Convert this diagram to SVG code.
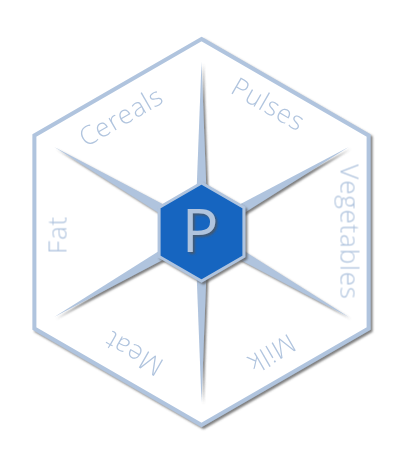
<svg xmlns="http://www.w3.org/2000/svg" width="402" height="464" viewBox="0 0 402 464">
  <style>
    .outer { fill: #ffffff; stroke: #b0c4de; stroke-width: 4; stroke-linejoin: miter; }
    .inner { fill: #1565c0; stroke: #b0c4de; stroke-width: 3; }
    .spoke { fill: #b0c4de; }
    .lbl { font-family: "Open Sans", "DejaVu Sans", sans-serif; font-weight: 300; font-size: 26px; letter-spacing: 0.8px; fill: #b0c4de; text-anchor: middle; }
    .p { font-family: "Open Sans", "DejaVu Sans", sans-serif; font-weight: 400; font-size: 61px; fill: #b0c4de; text-anchor: middle; }
  </style>
  <defs>
    <filter id="sh" x="-20%" y="-20%" width="140%" height="140%">
      <feDropShadow dx="2" dy="2" stdDeviation="0.8" flood-color="#555555" flood-opacity="0.75"/>
    </filter>
    <polygon id="spk" class="spoke" points="195,232 201.5,62 208,232"/>
  </defs>
  <g id="frame" filter="url(#sh)">
    <polygon class="outer" points="201.5,39 368.6,135.5 368.6,328.5 201.5,425 34.4,328.5 34.4,135.5"/>
  </g>
  <g id="connectors" filter="url(#sh)">
    <use href="#spk"/>
    <use href="#spk" transform="rotate(60 201.5 232)"/>
    <use href="#spk" transform="rotate(120 201.5 232)"/>
    <use href="#spk" transform="rotate(180 201.5 232)"/>
    <use href="#spk" transform="rotate(240 201.5 232)"/>
    <use href="#spk" transform="rotate(300 201.5 232)"/>
  </g>
  <g id="center">
    <polygon class="inner" filter="url(#sh)" points="201.5,183 243.9,207.5 243.9,256.5 201.5,281 159.1,256.5 159.1,207.5"/>
    <text class="p" x="200" y="252" filter="url(#sh)">P</text>
  </g>
  <g id="pulses"><text class="lbl" x="195.5" y="97" transform="rotate(30 201.5 232)">Pulses</text></g>
  <g id="vegetables"><text class="lbl" x="201.5" y="93" transform="rotate(90 201.5 232)">Vegetables</text></g>
  <g id="milk"><text class="lbl" x="201.5" y="101" transform="rotate(150 201.5 232)">Milk</text></g>
  <g id="meat"><text class="lbl" x="199.5" y="102" transform="rotate(210 201.5 232)">Meat</text></g>
  <g id="fat"><text class="lbl" x="198.5" y="97" transform="rotate(270 201.5 232)">Fat</text></g>
  <g id="cereals"><text class="lbl" x="189.5" y="101" transform="rotate(330 201.5 232)">Cereals</text></g>
</svg>
